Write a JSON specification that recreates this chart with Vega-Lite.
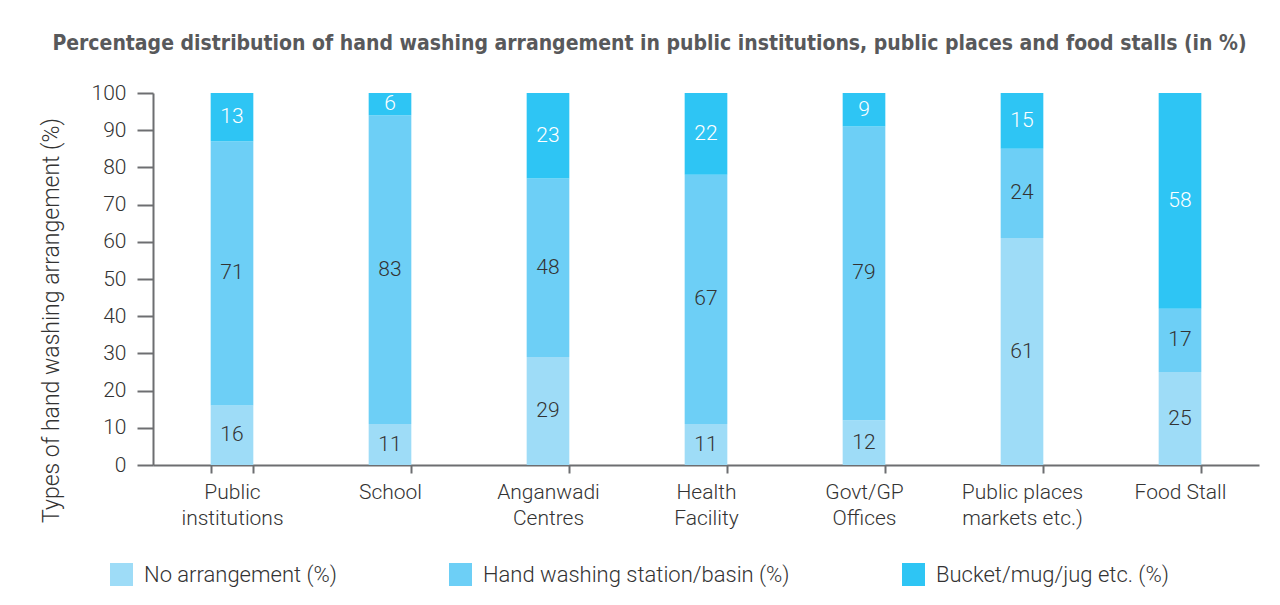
{
  "$schema": "https://vega.github.io/schema/vega-lite/v6.json",
  "width": 1106,
  "height": 372,
  "autosize": {"type": "none"},
  "padding": {"left": 153, "top": 93, "right": 21, "bottom": 140},
  "background": "white",
  "title": {
    "text": "Percentage distribution of hand washing arrangement in public institutions, public places and food stalls (in %)",
    "font": "Liberation Sans Narrow, DejaVu Sans Condensed, sans-serif",
    "fontSize": 21,
    "fontWeight": "bold",
    "color": "#58595b",
    "anchor": "middle",
    "frame": "bounds",
    "offset": 28
  },
  "config": {
    "view": {"stroke": null},
    "font": "Roboto",
    "axis": {
      "domainColor": "#6d6e71",
      "domainWidth": 2,
      "tickColor": "#6d6e71",
      "tickWidth": 2,
      "labelFont": "Roboto",
      "labelFontWeight": 300,
      "labelFontSize": 21,
      "labelColor": "#333333",
      "titleFont": "Roboto",
      "titleFontWeight": 300,
      "titleFontSize": 23,
      "titleColor": "#333333",
      "grid": false,
      "labelOverlap": false
    }
  },
  "data": {
    "values": [
      {"place": "Public institutions", "type": "No arrangement (%)", "k": 1, "value": 16},
      {"place": "Public institutions", "type": "Hand washing station/basin (%)", "k": 2, "value": 71},
      {"place": "Public institutions", "type": "Bucket/mug/jug etc. (%)", "k": 3, "value": 13},
      {"place": "School", "type": "No arrangement (%)", "k": 1, "value": 11},
      {"place": "School", "type": "Hand washing station/basin (%)", "k": 2, "value": 83},
      {"place": "School", "type": "Bucket/mug/jug etc. (%)", "k": 3, "value": 6},
      {"place": "Anganwadi Centres", "type": "No arrangement (%)", "k": 1, "value": 29},
      {"place": "Anganwadi Centres", "type": "Hand washing station/basin (%)", "k": 2, "value": 48},
      {"place": "Anganwadi Centres", "type": "Bucket/mug/jug etc. (%)", "k": 3, "value": 23},
      {"place": "Health Facility", "type": "No arrangement (%)", "k": 1, "value": 11},
      {"place": "Health Facility", "type": "Hand washing station/basin (%)", "k": 2, "value": 67},
      {"place": "Health Facility", "type": "Bucket/mug/jug etc. (%)", "k": 3, "value": 22},
      {"place": "Govt/GP Offices", "type": "No arrangement (%)", "k": 1, "value": 12},
      {"place": "Govt/GP Offices", "type": "Hand washing station/basin (%)", "k": 2, "value": 79},
      {"place": "Govt/GP Offices", "type": "Bucket/mug/jug etc. (%)", "k": 3, "value": 9},
      {"place": "Public places markets etc.)", "type": "No arrangement (%)", "k": 1, "value": 61},
      {"place": "Public places markets etc.)", "type": "Hand washing station/basin (%)", "k": 2, "value": 24},
      {"place": "Public places markets etc.)", "type": "Bucket/mug/jug etc. (%)", "k": 3, "value": 15},
      {"place": "Food Stall", "type": "No arrangement (%)", "k": 1, "value": 25},
      {"place": "Food Stall", "type": "Hand washing station/basin (%)", "k": 2, "value": 17},
      {"place": "Food Stall", "type": "Bucket/mug/jug etc. (%)", "k": 3, "value": 58}
    ]
  },
  "transform": [
    {"stack": "value", "groupby": ["place"], "sort": [{"field": "k", "order": "ascending"}], "as": ["v0", "v1"]},
    {"calculate": "(datum.v0 + datum.v1) / 2", "as": "mid"}
  ],
  "encoding": {
    "x": {
      "field": "place",
      "type": "nominal",
      "sort": null,
      "scale": {"paddingInner": 0.73, "paddingOuter": 0.365},
      "axis": {
        "title": null,
        "labelAngle": 0,
        "tickBand": "extent",
        "tickSize": 8,
        "labelPadding": 8,
        "labelBaseline": "top",
        "labelLineHeight": 26,
        "labelExpr": "datum.label == 'Public institutions' ? ['Public', 'institutions'] : datum.label == 'Anganwadi Centres' ? ['Anganwadi', 'Centres'] : datum.label == 'Health Facility' ? ['Health', 'Facility'] : datum.label == 'Govt/GP Offices' ? ['Govt/GP', 'Offices'] : datum.label == 'Public places markets etc.)' ? ['Public places', 'markets etc.)'] : datum.label"
      }
    }
  },
  "layer": [
    {
      "mark": {"type": "bar"},
      "encoding": {
        "y": {
          "field": "v0",
          "type": "quantitative",
          "scale": {"domain": [0, 100]},
          "axis": {
            "title": "Types of hand washing arrangement  (%)",
            "values": [0, 10, 20, 30, 40, 50, 60, 70, 80, 90, 100],
            "tickSize": 16,
            "labelPadding": 11,
            "titlePadding": 28,
            "titleY": 227
          }
        },
        "y2": {"field": "v1"},
        "color": {
          "field": "type",
          "type": "nominal",
          "sort": null,
          "scale": {
            "domain": ["No arrangement (%)", "Hand washing station/basin (%)", "Bucket/mug/jug etc. (%)"],
            "range": ["#9edcf7", "#6dcff6", "#2ec5f4"]
          },
          "legend": {
            "title": null,
            "orient": "none",
            "legendX": -43,
            "legendY": 470,
            "direction": "horizontal",
            "columns": 3,
            "columnPadding": 112,
            "symbolType": "square",
            "symbolSize": 529,
            "symbolStrokeWidth": 0,
            "symbolOpacity": 1,
            "labelFont": "Roboto",
            "labelFontWeight": 300,
            "labelFontSize": 22,
            "labelColor": "#333333",
            "labelOffset": 11,
            "labelLimit": 400
          }
        }
      }
    },
    {
      "mark": {"type": "text", "fontSize": 21, "font": "Roboto", "fontWeight": 300, "baseline": "middle", "align": "center"},
      "encoding": {
        "y": {
          "field": "mid",
          "type": "quantitative",
          "axis": {
            "title": "Types of hand washing arrangement  (%)",
            "values": [0, 10, 20, 30, 40, 50, 60, 70, 80, 90, 100],
            "tickSize": 16,
            "labelPadding": 11,
            "titlePadding": 28,
            "titleY": 227
          }
        },
        "text": {"field": "value", "type": "quantitative"},
        "color": {
          "condition": {"test": "datum.k == 3", "value": "#ffffff"},
          "value": "#333333"
        }
      }
    }
  ]
}
